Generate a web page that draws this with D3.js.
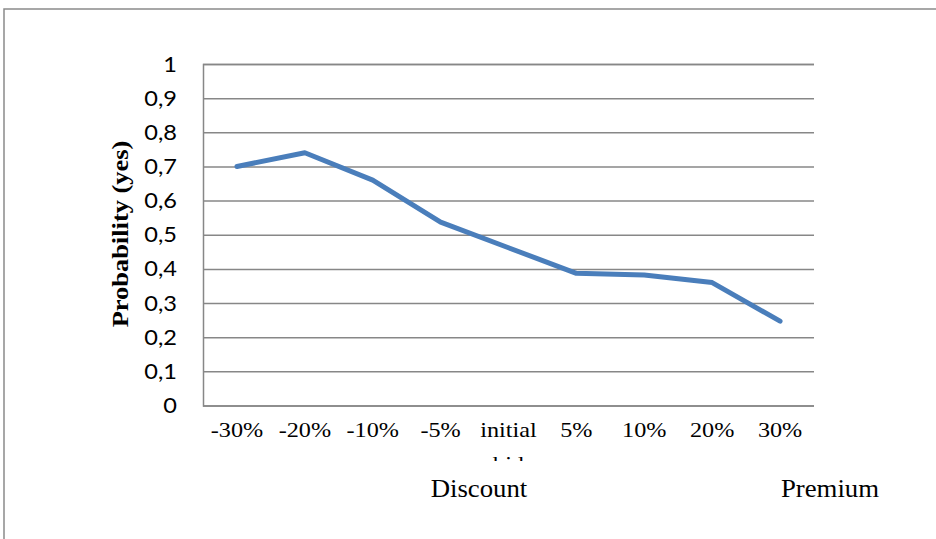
<!DOCTYPE html>
<html>
<head>
<meta charset="utf-8">
<script src="https://cdn.jsdelivr.net/npm/d3@7"></script>
<style>
  html, body { margin: 0; padding: 0; background: #fff; }
  svg { display: block; }
</style>
</head>
<body>
<svg id="chart" width="936" height="539"></svg>
<script>
// Price levels relative to the initial bid
const categories = ["-30%", "-20%", "-10%", "-5%", "initial bid", "5%", "10%", "20%", "30%"];
// Probability of a "yes" answer at each price level
const probability = [0.70, 0.74, 0.66, 0.537, 0.462, 0.387, 0.382, 0.36, 0.247];
const yTicks = [0, 0.1, 0.2, 0.3, 0.4, 0.5, 0.6, 0.7, 0.8, 0.9, 1];
const yTitle = "Probability (yes)";
const sideLabels = ["Discount", "Premium"];

const svg = d3.select("#chart");
const plot = { left: 203, right: 814, top: 64, bottom: 405.5 };

// Outer frame of the chart object
svg.append("rect")
  .attr("x", 4).attr("y", 9).attr("width", 1000).attr("height", 1000)
  .attr("fill", "none").attr("stroke", "#8a8a8a").attr("stroke-width", 1.5);

const x = d3.scalePoint().domain(categories).range([plot.left, plot.right]).padding(0.5);
const y = d3.scaleLinear().domain([0, 1]).range([plot.bottom, plot.top]);

// Horizontal gridlines
const yAxis = d3.axisLeft(y).tickValues(yTicks).tickSize(-(plot.right - plot.left)).tickFormat("");
const gy = svg.append("g").attr("transform", `translate(${plot.left},0)`).call(yAxis);
gy.select(".domain").attr("stroke", "#878787").attr("stroke-width", 1.5);
gy.selectAll(".tick line").attr("stroke", "#878787").attr("stroke-width", 1.5);

// Y tick labels (decimal comma)
const fmt = v => String(+v.toFixed(1)).replace(".", ",");
svg.append("g").selectAll("text").data(yTicks).join("text")
  .attr("transform", d => `translate(177,${y(d) + 7.5}) scale(1.15,1)`)
  .attr("text-anchor", "end")
  .attr("font-family", "Lato, 'Noto Sans', sans-serif")
  .attr("font-size", 20.5)
  .attr("fill", "#000")
  .text(fmt);

// Y axis title
svg.append("text")
  .attr("transform", `translate(128,234) rotate(-90) scale(1.15,1)`)
  .attr("text-anchor", "middle")
  .attr("font-family", "'Liberation Serif', 'Times New Roman', serif")
  .attr("font-weight", "bold")
  .attr("font-size", 23)
  .attr("fill", "#000")
  .text(yTitle);

// X tick labels; the second line of a wrapped label is cut off below
svg.append("defs").append("clipPath").attr("id", "tickclip")
  .append("rect").attr("x", 0).attr("y", 0).attr("width", 936).attr("height", 461);

const xl = svg.append("g").attr("clip-path", "url(#tickclip)")
  .selectAll("g").data(categories).join("g")
  .attr("transform", d => `translate(${x(d)},0)`);
xl.each(function(d) {
  const words = d.split(" ");
  const lines = words.length > 1 ? [words[0], words.slice(1).join(" ")] : [d];
  d3.select(this).selectAll("text").data(lines).join("text")
    .attr("transform", (t, i) => `translate(0,${437 + i * 34}) scale(1.1,1)`)
    .attr("text-anchor", "middle")
    .attr("font-family", "'Liberation Serif', 'Times New Roman', serif")
    .attr("font-size", 22)
    .attr("fill", "#000")
    .text(t => t);
});

// Discount / Premium captions
svg.append("g").selectAll("text").data(sideLabels).join("text")
  .attr("transform", (d, i) => `translate(${i === 0 ? 479 : 830},497) scale(1.03,1)`)
  .attr("text-anchor", "middle")
  .attr("font-family", "'Liberation Serif', 'Times New Roman', serif")
  .attr("font-size", 26)
  .attr("fill", "#000")
  .text(d => d);

// Probability line
const line = d3.line().x((d, i) => x(categories[i])).y(d => y(d));
svg.append("path")
  .datum(probability)
  .attr("d", line)
  .attr("fill", "none")
  .attr("stroke", "#4a7ebb")
  .attr("stroke-width", 5)
  .attr("stroke-linecap", "round")
  .attr("stroke-linejoin", "round");
</script>
</body>
</html>
